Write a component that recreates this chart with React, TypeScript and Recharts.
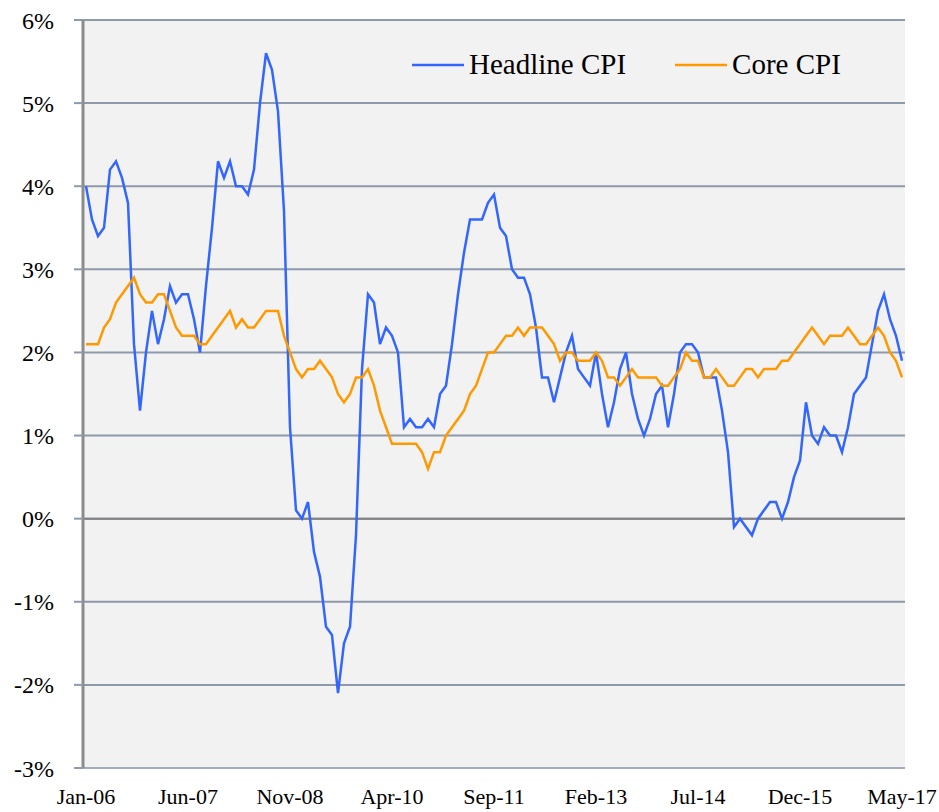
import {
	CartesianGrid,
	Legend,
	Line,
	LineChart,
	ReferenceLine,
	XAxis,
	YAxis,
} from "recharts";

const monthNames = ["Jan", "Feb", "Mar", "Apr", "May", "Jun", "Jul", "Aug", "Sep", "Oct", "Nov", "Dec"];
const years = ["06", "07", "08", "09", "10", "11", "12", "13", "14", "15", "16", "17"];

// year-over-year % change, Jan-06 .. May-17
const headline = [
	4.0, 3.6, 3.4, 3.5, 4.2, 4.3, 4.1, 3.8, 2.1, 1.3, 2.0, 2.5,
	2.1, 2.4, 2.8, 2.6, 2.7, 2.7, 2.4, 2.0, 2.8, 3.5, 4.3, 4.1,
	4.3, 4.0, 4.0, 3.9, 4.2, 5.0, 5.6, 5.4, 4.9, 3.7, 1.1, 0.1,
	0.0, 0.2, -0.4, -0.7, -1.3, -1.4, -2.1, -1.5, -1.3, -0.2, 1.8, 2.7,
	2.6, 2.1, 2.3, 2.2, 2.0, 1.1, 1.2, 1.1, 1.1, 1.2, 1.1, 1.5,
	1.6, 2.1, 2.7, 3.2, 3.6, 3.6, 3.6, 3.8, 3.9, 3.5, 3.4, 3.0,
	2.9, 2.9, 2.7, 2.3, 1.7, 1.7, 1.4, 1.7, 2.0, 2.2, 1.8, 1.7,
	1.6, 2.0, 1.5, 1.1, 1.4, 1.8, 2.0, 1.5, 1.2, 1.0, 1.2, 1.5,
	1.6, 1.1, 1.5, 2.0, 2.1, 2.1, 2.0, 1.7, 1.7, 1.7, 1.3, 0.8,
	-0.1, 0.0, -0.1, -0.2, 0.0, 0.1, 0.2, 0.2, 0.0, 0.2, 0.5, 0.7,
	1.4, 1.0, 0.9, 1.1, 1.0, 1.0, 0.8, 1.1, 1.5, 1.6, 1.7, 2.1,
	2.5, 2.7, 2.4, 2.2, 1.9,
];

const core = [
	2.1, 2.1, 2.1, 2.3, 2.4, 2.6, 2.7, 2.8, 2.9, 2.7, 2.6, 2.6,
	2.7, 2.7, 2.5, 2.3, 2.2, 2.2, 2.2, 2.1, 2.1, 2.2, 2.3, 2.4,
	2.5, 2.3, 2.4, 2.3, 2.3, 2.4, 2.5, 2.5, 2.5, 2.2, 2.0, 1.8,
	1.7, 1.8, 1.8, 1.9, 1.8, 1.7, 1.5, 1.4, 1.5, 1.7, 1.7, 1.8,
	1.6, 1.3, 1.1, 0.9, 0.9, 0.9, 0.9, 0.9, 0.8, 0.6, 0.8, 0.8,
	1.0, 1.1, 1.2, 1.3, 1.5, 1.6, 1.8, 2.0, 2.0, 2.1, 2.2, 2.2,
	2.3, 2.2, 2.3, 2.3, 2.3, 2.2, 2.1, 1.9, 2.0, 2.0, 1.9, 1.9,
	1.9, 2.0, 1.9, 1.7, 1.7, 1.6, 1.7, 1.8, 1.7, 1.7, 1.7, 1.7,
	1.6, 1.6, 1.7, 1.8, 2.0, 1.9, 1.9, 1.7, 1.7, 1.8, 1.7, 1.6,
	1.6, 1.7, 1.8, 1.8, 1.7, 1.8, 1.8, 1.8, 1.9, 1.9, 2.0, 2.1,
	2.2, 2.3, 2.2, 2.1, 2.2, 2.2, 2.2, 2.3, 2.2, 2.1, 2.1, 2.2,
	2.3, 2.2, 2.0, 1.9, 1.7,
];

const yTicks = [-3, -2, -1, 0, 1, 2, 3, 4, 5, 6];

const data = headline.map((h, i) => ({
	month: `${monthNames[i % 12]}-${years[Math.floor(i / 12)]}`,
	headline: h,
	core: core[i],
}));

const FONT = "'Liberation Serif', 'Times New Roman', serif";

const LegendBox = () => (
	<div style={{ display: "flex", alignItems: "center", fontFamily: FONT, fontSize: 29, color: "#000" }}>
		<svg width={52} height={6} style={{ marginRight: 5 }}>
			<line x1={0} y1={3} x2={52} y2={3} stroke="#3366ff" strokeWidth={2.5} />
		</svg>
		<span>Headline CPI</span>
		<svg width={52} height={6} style={{ marginLeft: 49, marginRight: 5 }}>
			<line x1={0} y1={3} x2={52} y2={3} stroke="#ff9900" strokeWidth={2.5} />
		</svg>
		<span>Core CPI</span>
	</div>
);

export default function App() {
	return (
		<div style={{ position: "absolute", left: 0, top: 0, background: "#fff" }}>
			<LineChart
				width={939}
				height={812}
				data={data}
				margin={{ top: 20, right: 34, bottom: 0, left: 0 }}
			>
				<CartesianGrid
					vertical={false}
					fill="#f2f2f2"
					stroke="#8e99aa"
					strokeWidth={2}
				/>
				<XAxis
					dataKey="month"
					interval={16}
					height={44}
					padding={{ left: 3, right: 3 }}
					tickLine={false}
					tickMargin={14}
					axisLine={{ stroke: "#a3acba", strokeWidth: 2 }}
					tick={{ fill: "#000", fontFamily: FONT, fontSize: 22 }}
				/>
				<YAxis
					domain={[-3, 6]}
					ticks={yTicks}
					width={83}
					interval={0}
					tickFormatter={(v) => `${v}%`}
					tickSize={9}
					tickMargin={20}
					tickLine={{ stroke: "#8e99aa", strokeWidth: 2 }}
					axisLine={{ stroke: "#8c8c8c", strokeWidth: 3 }}
					tick={{ fill: "#000", fontFamily: FONT, fontSize: 24 }}
				/>
				<YAxis
					yAxisId="right"
					orientation="right"
					domain={[-3, 6]}
					width={0}
					tick={false}
					tickLine={false}
					axisLine={{ stroke: "#b4bcc8", strokeWidth: 2 }}
				/>
				<ReferenceLine y={0} stroke="#808080" strokeWidth={2} />
				<Legend
					layout="horizontal"
					verticalAlign="middle"
					align="center"
					wrapperStyle={{ top: 48, left: 412, width: 470 }}
					content={() => <LegendBox />}
				/>
				<Line
					dataKey="headline"
					name="Headline CPI"
					stroke="#3366ff"
					strokeWidth={2.5}
					dot={false}
					type="linear"
					isAnimationActive={false}
				/>
				<Line
					dataKey="core"
					name="Core CPI"
					stroke="#ff9900"
					strokeWidth={2.5}
					dot={false}
					type="linear"
					isAnimationActive={false}
				/>
			</LineChart>
		</div>
	);
}
